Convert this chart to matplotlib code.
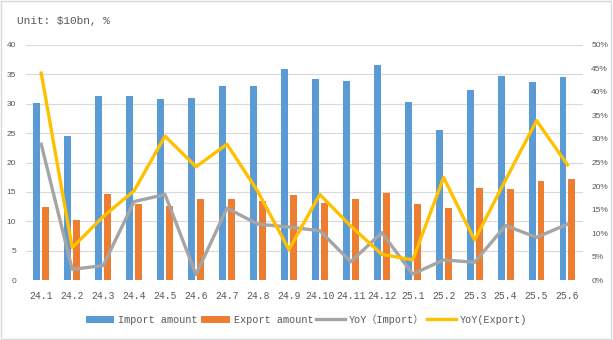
import matplotlib
matplotlib.use('Agg')
import numpy as np
import matplotlib.pyplot as plt
from matplotlib.patches import Rectangle

plt.rcParams['font.family'] = ['Liberation Mono', 'Noto Sans CJK SC', 'DejaVu Sans']

months = ['24.1', '24.2', '24.3', '24.4', '24.5', '24.6', '24.7', '24.8', '24.9',
          '24.10', '24.11', '24.12', '25.1', '25.2', '25.3', '25.4', '25.5', '25.6']
import_amt = [30.2, 24.5, 31.3, 31.3, 30.8, 31.0, 33.0, 33.0, 35.9,
              34.2, 33.9, 36.6, 30.3, 25.5, 32.3, 34.7, 33.7, 34.6]
export_amt = [12.4, 10.2, 14.6, 13.0, 12.6, 13.8, 13.8, 13.4, 14.4,
              13.2, 13.8, 14.8, 13.0, 12.3, 15.7, 15.5, 16.9, 17.2]
yoy_import = [28.9, 2.3, 3.1, 16.7, 18.2, 1.2, 15.3, 11.9, 11.3,
              10.5, 3.9, 10.1, 1.3, 4.3, 3.8, 11.6, 9.1, 11.9]
yoy_export = [44.0, 6.9, 13.5, 19.0, 30.6, 24.1, 28.9, 18.8, 6.5,
              18.2, 11.5, 5.5, 4.3, 21.8, 8.5, 21.3, 33.9, 24.5]

text_color = '#595959'
c_imp, c_exp, c_yi, c_ye = '#5B9BD5', '#ED7D31', '#A5A5A5', '#FFC000'

fig = plt.figure(figsize=(6.13, 3.4), dpi=100)
fig.patches.append(Rectangle((0.002, 0.003), 0.995, 0.994, transform=fig.transFigure,
                             fill=False, edgecolor='#D9D9D9', linewidth=1))

ax = fig.add_axes([0.042, 0.176, 0.909, 0.692])
x = np.arange(len(months))
w = 0.225
ax.bar(x - 0.145, import_amt, w, color=c_imp, zorder=2, label='Import amount')
ax.bar(x + 0.145, export_amt, w, color=c_exp, zorder=2, label='Export amount')
ax.set_xlim(-0.5, len(months) - 0.5)
ax.set_ylim(0, 40)
ax.set_yticks(range(0, 41, 5))
ax.yaxis.grid(True, color='#D9D9D9', linewidth=0.8, zorder=0)
ax.set_axisbelow(True)
ax.set_xticks(x)
ax.set_xticklabels(months, fontsize=7, color=text_color)
ax.tick_params(axis='y', labelsize=6, colors=text_color, length=0, pad=7)
ax.tick_params(axis='x', length=0, pad=8)
for lbl in ax.get_yticklabels():
    lbl.set_family('Liberation Sans')
for s in ax.spines.values():
    s.set_visible(False)

ax2 = ax.twinx()
ax2.plot(x, yoy_import, color=c_yi, linewidth=2.4, zorder=3, label='YoY\uff08Import\uff09')
ax2.plot(x, yoy_export, color=c_ye, linewidth=2.4, zorder=4, label='YoY(Export)')
ax2.set_ylim(0, 50)
ax2.set_yticks(range(0, 51, 5))
ax2.set_yticklabels([f'{v}%' for v in range(0, 51, 5)], family='Liberation Sans')
ax2.tick_params(axis='y', labelsize=6, colors=text_color, length=0, pad=6)
for s in ax2.spines.values():
    s.set_visible(False)

fig.text(0.028, 0.93, 'Unit: $10bn, %', fontsize=8, color=text_color)

h1, l1 = ax.get_legend_handles_labels()
h2, l2 = ax2.get_legend_handles_labels()
fig.legend(h1 + h2, l1 + l2, loc='center', bbox_to_anchor=(0.5, 0.06), ncol=4,
           frameon=False, fontsize=7.3, labelcolor=text_color,
           handlelength=2.8, handletextpad=0.4, columnspacing=0.3)

fig.savefig('out.png', dpi=100)
